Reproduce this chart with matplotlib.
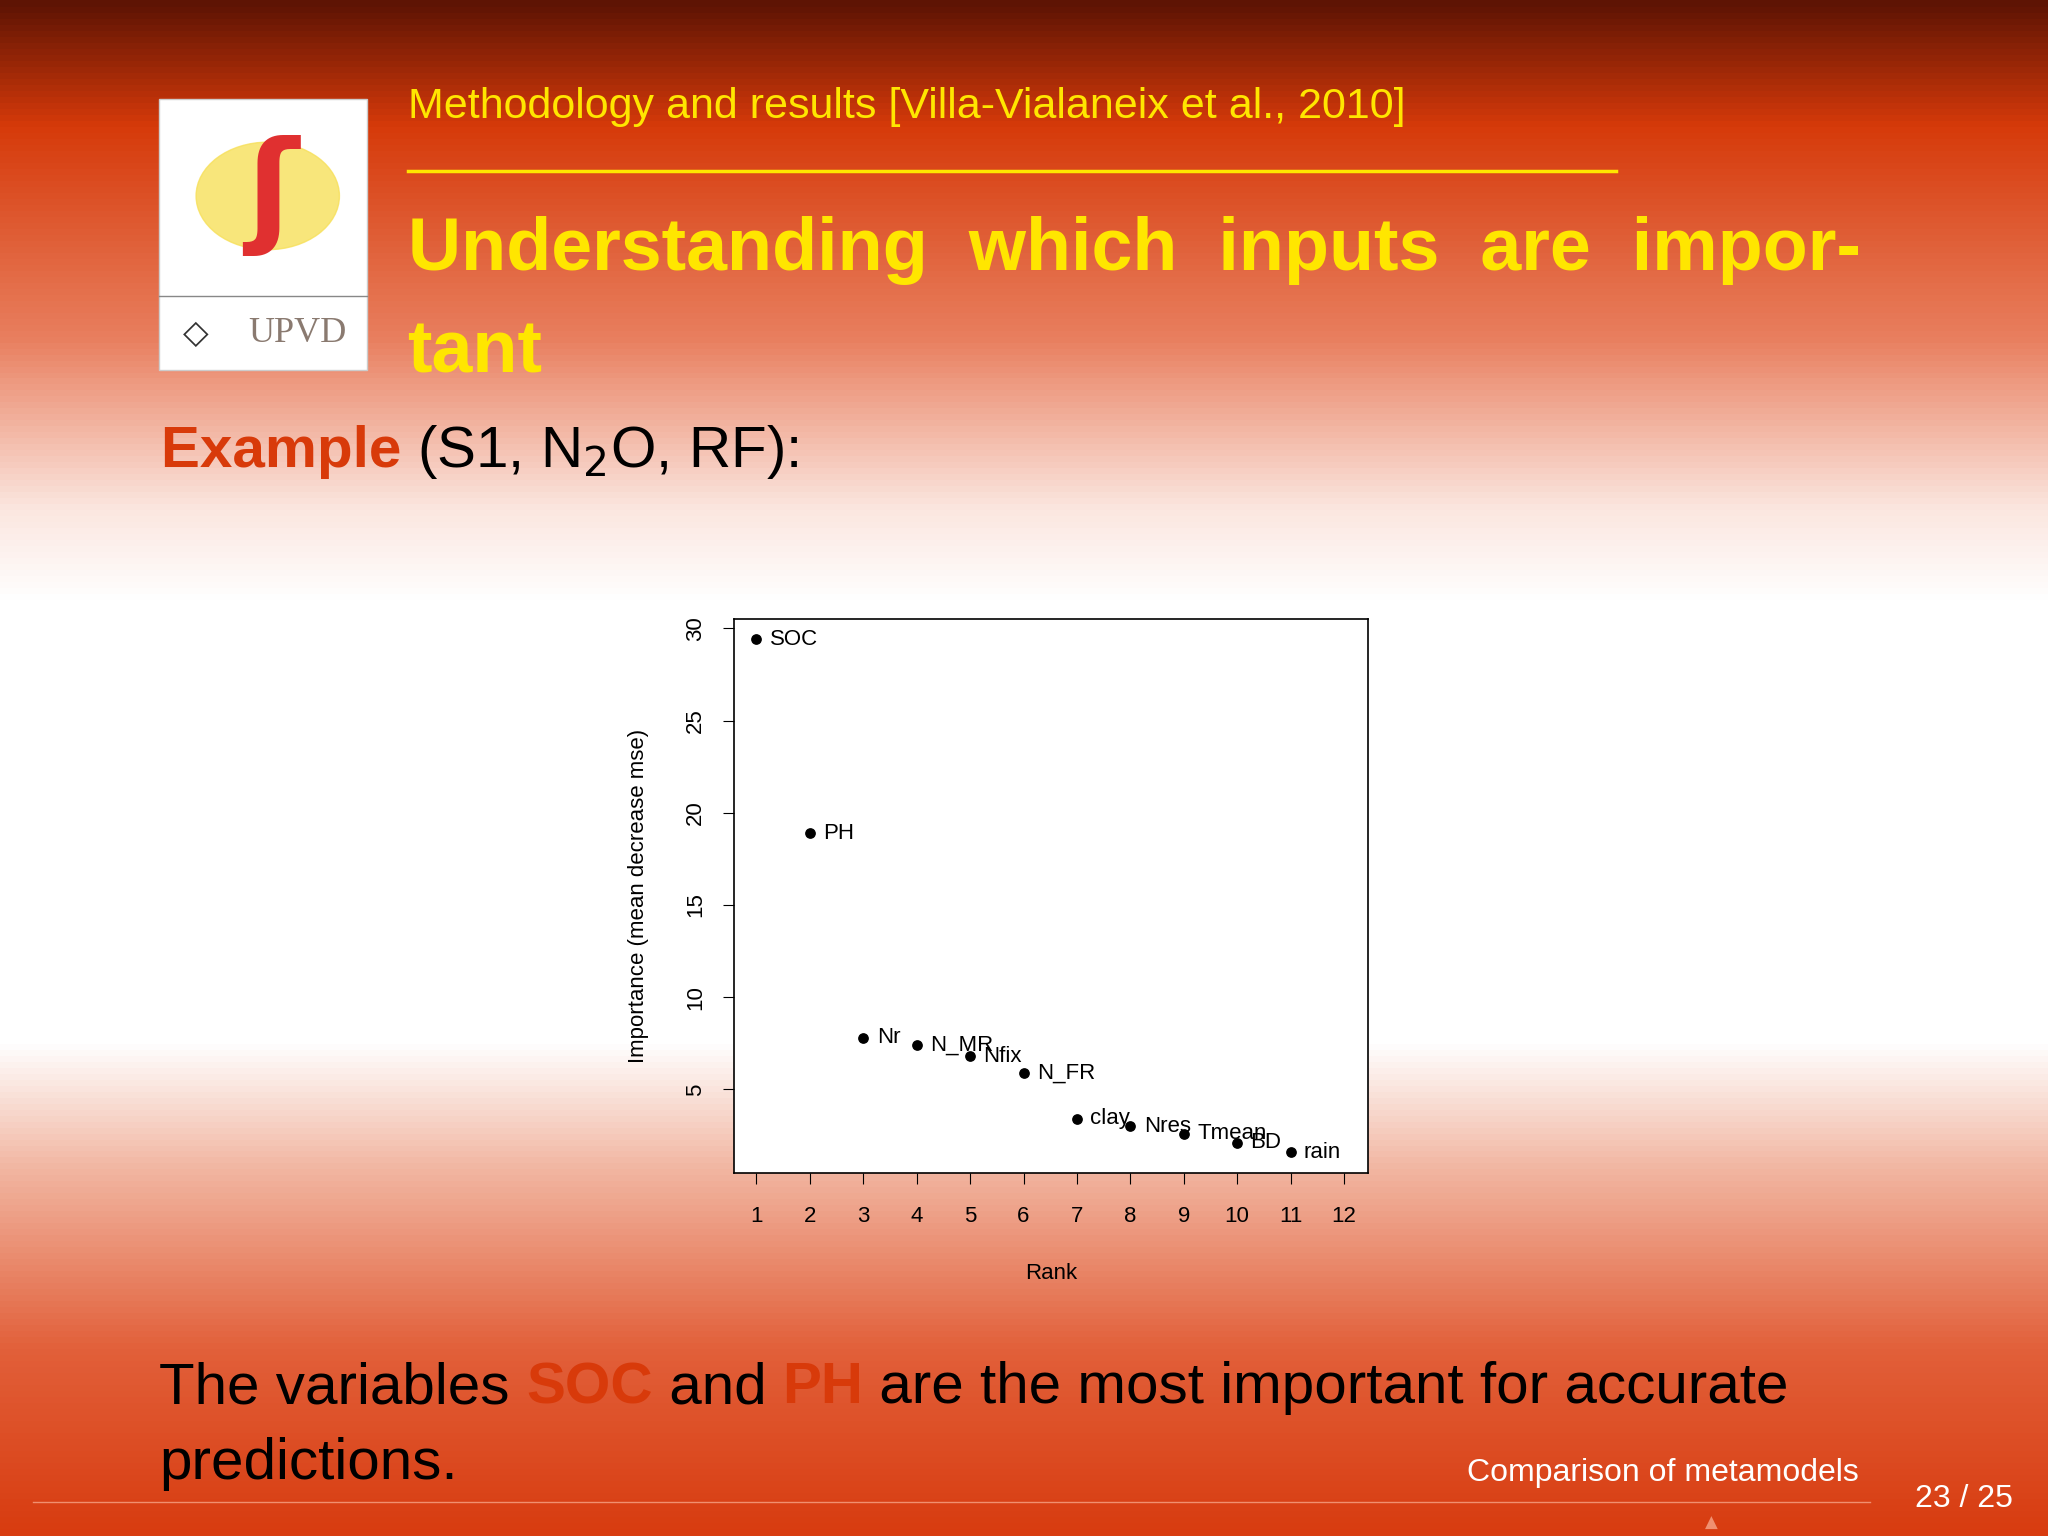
import numpy as np
import matplotlib
matplotlib.use("Agg")
import matplotlib.pyplot as plt
from matplotlib.colors import LinearSegmentedColormap
from matplotlib.patches import Rectangle

plt.rcParams['font.family'] = ['Liberation Sans', 'DejaVu Sans']

variables = ["SOC", "PH", "Nr", "N_MR", "Nfix", "N_FR", "clay", "Nres", "Tmean", "BD", "rain"]
importance = [29.4, 18.9, 7.8, 7.4, 6.8, 5.9, 3.4, 3.0, 2.6, 2.1, 1.6]
ranks = list(range(1, len(variables) + 1))
xticks = list(range(1, 13))
yticks = [5, 10, 15, 20, 25, 30]

W, H = 1568, 1176
fig = plt.figure(figsize=(20.48, 15.36), dpi=100)

def fx(px): return px / W
def fy(py): return 1 - py / H

bg = fig.add_axes([0, 0, 1, 1])
bg.set_axis_off()
cmap = LinearSegmentedColormap.from_list("bg", [
    (0.0, "#5e1404"), (0.08, "#d63a0a"), (0.22, "#e98060"), (0.33, "#fbe6df"),
    (0.39, "#ffffff"), (0.68, "#ffffff"), (0.76, "#f2b8a4"), (0.88, "#e2603a"), (1.0, "#d83c10")])
grad = np.linspace(0, 1, 512).reshape(-1, 1)
bg.imshow(grad, aspect="auto", cmap=cmap, extent=[0, 1, 0, 1], origin="upper")
bg.set_xlim(0, 1); bg.set_ylim(0, 1)

# logo
bg.add_patch(Rectangle((fx(122), fy(283)), fx(281) - fx(122), fy(76) - fy(283), facecolor="white", edgecolor="#cccccc"))
bg.add_patch(plt.Circle((fx(205), fy(150)), 0.035, color="#f7e05a", alpha=0.8))
bg.text(fx(208), fy(150), "ʃ", color="#e03030", fontsize=90, ha="center", va="center", fontweight="bold", family="DejaVu Sans")
bg.plot([fx(122), fx(281)], [fy(227), fy(227)], color="#888888", lw=1)
bg.text(fx(228), fy(255), "UPVD", color="#8a7a70", fontsize=26, ha="center", va="center", family="Liberation Serif")
bg.text(fx(150), fy(255), "◇", color="#333333", fontsize=24, ha="center", va="center", family="DejaVu Sans")

yellow = "#ffe600"
bg.text(fx(312), fy(82), "Methodology and results [Villa-Vialaneix et al., 2010]", color=yellow, fontsize=31, va="center")
bg.plot([fx(312), fx(1237)], [fy(131), fy(131)], color=yellow, lw=2.5)
bg.text(fx(312), fy(192), "Understanding  which  inputs  are  impor-", color=yellow, fontsize=53, fontweight="bold", va="center")
bg.text(fx(312), fy(270), "tant", color=yellow, fontsize=53, fontweight="bold", va="center")

red = "#d83a0a"
fig.canvas.draw()
renderer = fig.canvas.get_renderer()

def seq(x0, y, pieces, size):
    x = x0
    for s, c, w in pieces:
        t = bg.text(x, y, s, color=c, fontsize=size, fontweight=w, va="center")
        bb = t.get_window_extent(renderer)
        x += bb.width / fig.bbox.width

seq(fx(123), fy(346), [("Example ", red, "bold"), ("(S1, N$_2$O, RF):", "black", "normal")], 42)
seq(fx(122), fy(1063), [("The variables ", "black", "normal"), ("SOC", red, "bold"), (" and ", "black", "normal"),
                        ("PH", red, "bold"), (" are the most important for accurate", "black", "normal")], 42)
bg.text(fx(122), fy(1121), "predictions.", color="black", fontsize=42, va="center")

bg.text(fx(1423), fy(1128), "Comparison of metamodels", color="white", fontsize=23, ha="right", va="center")
bg.text(fx(1541), fy(1148), "23 / 25", color="white", fontsize=23, ha="right", va="center")
bg.plot([fx(25), fx(1432)], [fy(1150), fy(1150)], color="#f09070", lw=1)
bg.text(fx(1310), fy(1166), "▲", color="#f09070", fontsize=12, ha="center", va="center", family="DejaVu Sans")

ax = fig.add_axes([fx(562), fy(898), fx(1047) - fx(562), fy(474) - fy(898)])
ax.set_facecolor("white")
ax.scatter(ranks, importance, s=45, color="black", zorder=3)
for r, v, n in zip(ranks, importance, variables):
    ax.text(r + 0.25, v, n, fontsize=16, va="center", ha="left")
ax.set_xlim(0.58, 12.44)
ax.set_ylim(0.47, 30.5)
ax.set_xticks(xticks)
ax.set_yticks(yticks)
ax.tick_params(labelsize=16, length=8)
ax.set_yticklabels([str(t) for t in yticks], rotation=90, va="center")
ax.tick_params(axis="x", pad=16)
ax.tick_params(axis="y", pad=12)
ax.set_xlabel("Rank", fontsize=16, labelpad=26)
ax.set_ylabel("Importance (mean decrease mse)", fontsize=16, labelpad=26)
for s in ax.spines.values():
    s.set_linewidth(1.2)

fig.savefig("out.png", dpi=100)
